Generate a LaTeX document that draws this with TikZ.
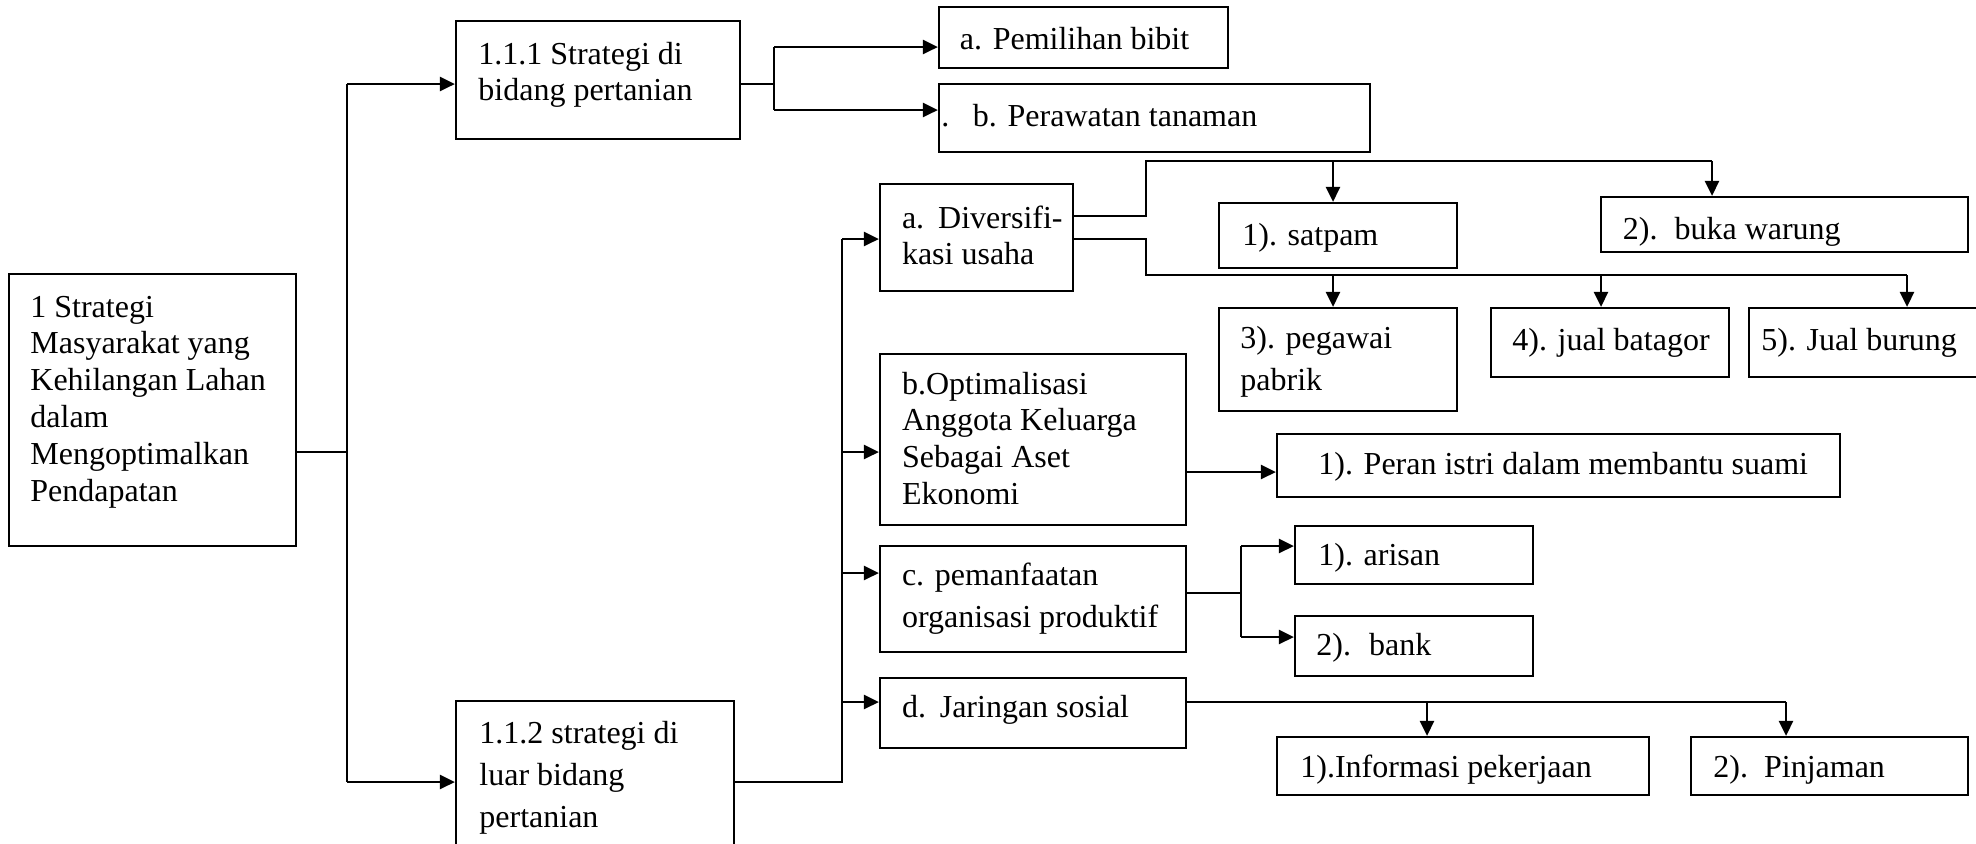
\documentclass[tikz,border=0pt]{standalone}
\usepackage{fontspec}
\setmainfont{Liberation Serif}
\usetikzlibrary{arrows.meta}
\tikzset{
  boxst/.style={draw, line width=1.1pt, rectangle, inner sep=0pt},
  txt/.style={anchor=north west, inner sep=0pt, align=left, font=\fontsize{16pt}{18.4pt}\selectfont},
  txtw/.style={anchor=north west, inner sep=0pt, align=left, font=\fontsize{16pt}{21pt}\selectfont},
  ln/.style={line width=1.1pt},
  arr/.style={line width=1.3pt, -{Triangle[length=7.5pt,width=7pt]}},
}
\newcommand{\mybx}[5]{\node[boxst, minimum width={(#4-#2)*0.5pt}, minimum height={(#5-#3)*0.5pt}] (#1) at ({(#2+#4)/2},{(#3+#5)/2}) {};}
\newcommand{\mytx}[4]{\node[txt] (#1) at ({#2},{#3-24}) {\strut #4};}
\newcommand{\mytw}[4]{\node[txtw] (#1) at ({#2},{#3-28}) {\strut #4};}
\begin{document}
\begin{tikzpicture}[x=0.5pt,y=-0.5pt]
\useasboundingbox (0,0) rectangle (1976,843);
\clip (0,0) rectangle (1976,843);
% boxes
\mybx{root}{9}{274}{296}{546}
\mybx{b111}{456}{21}{740}{139}
\mybx{b112}{456}{701}{734}{870}
\mybx{pem}{939}{7}{1228}{68}
\mybx{per}{939}{84}{1370}{152}
\mybx{div}{880}{184}{1073}{291}
\mybx{sat}{1219}{203}{1457}{268}
\mybx{buka}{1601}{197}{1968}{252}
\mybx{peg}{1219}{308}{1457}{411}
\mybx{bat}{1491}{308}{1729}{377}
\mybx{bur}{1749}{308}{1990}{377}
\mybx{opt}{880}{354}{1186}{525}
\mybx{peran}{1277}{434}{1840}{497}
\mybx{pmf}{880}{546}{1186}{652}
\mybx{ari}{1295}{526}{1533}{584}
\mybx{bank}{1295}{616}{1533}{676}
\mybx{jar}{880}{678}{1186}{748}
\mybx{info}{1277}{737}{1649}{795}
\mybx{pinj}{1691}{737}{1968}{795}
% texts
\mytx{roott}{30}{315}{1 Strategi\\Masyarakat yang\\Kehilangan Lahan\\dalam\\Mengoptimalkan\\Pendapatan}
\mytx{b111t}{478}{62}{1.1.1 Strategi di\\bidang pertanian}
\mytw{b112t}{479}{742}{1.1.2 strategi di\\luar bidang\\pertanian}
\mytx{pemt}{959.5}{47}{a. Pemilihan bibit}
\mytx{pert}{941}{124}{.\hspace{11.8pt}b. Perawatan tanaman}
\mytx{divt}{901.6}{226}{a.\hspace{7pt}Diversifi-\\kasi usaha}
\mytx{satt}{1242}{243}{1). satpam}
\mytx{bukat}{1622.5}{237}{2).\hspace{8.5pt}buka warung}
\mytw{pegt}{1240}{347}{3). pegawai\\pabrik}
\mytx{batt}{1512}{348}{4). jual batagor}
\mytx{burt}{1761}{348}{5). Jual burung}
\mytx{optt}{901.6}{392}{b.Optimalisasi\\Anggota Keluarga\\Sebagai Aset\\Ekonomi}
\mytx{perant}{1318}{472}{1). Peran istri dalam membantu suami}
\mytw{pmft}{901.6}{584}{c. pemanfaatan\\organisasi produktif}
\mytx{arit}{1318}{563}{1). arisan}
\mytx{bankt}{1316}{653}{2).\hspace{9pt}bank}
\mytx{jart}{901.6}{715}{d.\hspace{6.9pt}Jaringan sosial}
\mytx{infot}{1300}{775}{1).Informasi pekerjaan}
\mytx{pinjt}{1713}{775}{2).\hspace{8pt}Pinjaman}
% root connectors
\coordinate (jr) at (347,452);
\coordinate (jt) at (347,84);
\coordinate (jb) at (347,782);
\draw[ln] (jr -| root.east) -- (jr);
\draw[ln] (jt) -- (jb);
\draw[arr] (jt) -- (jt -| b111.west);
\draw[arr] (jb) -- (jb -| b112.west);
% 1.1.1 connectors
\coordinate (k0) at (774,84);
\coordinate (k1) at (774,47);
\coordinate (k2) at (774,110);
\draw[ln] (k0 -| b111.east) -- (k0);
\draw[ln] (k1) -- (k2);
\draw[arr] (k1) -- (k1 -| pem.west);
\draw[arr] (k2) -- (k2 -| per.west);
% 1.1.2 connectors
\coordinate (m0) at (842,782);
\coordinate (m1) at (842,239);
\coordinate (m2) at (842,452);
\coordinate (m3) at (842,573);
\coordinate (m4) at (842,702);
\draw[ln] (m0 -| b112.east) -- (m0) -- (m1);
\draw[arr] (m1) -- (m1 -| div.west);
\draw[arr] (m2) -- (m2 -| opt.west);
\draw[arr] (m3) -- (m3 -| pmf.west);
\draw[arr] (m4) -- (m4 -| jar.west);
% diversifikasi connectors
\coordinate (du1) at (1146,216);
\coordinate (du2) at (1146,161);
\coordinate (du3) at (1712,161);
\coordinate (dua) at (1333,161);
\draw[ln] (du1 -| div.east) -- (du1) -- (du2) -- (du3);
\draw[arr] (dua) -- (dua |- sat.north);
\draw[arr] (du3) -- (du3 |- buka.north);
\coordinate (dl1) at (1146,239);
\coordinate (dl2) at (1146,275);
\coordinate (dl3) at (1907,275);
\coordinate (dla) at (1333,275);
\coordinate (dlb) at (1601,275);
\draw[ln] (dl1 -| div.east) -- (dl1) -- (dl2) -- (dl3);
\draw[arr] (dla) -- (dla |- peg.north);
\draw[arr] (dlb) -- (dlb |- bat.north);
\draw[arr] (dl3) -- (dl3 |- bur.north);
% optimalisasi
\coordinate (o0) at (1200,472);
\draw[arr] (o0 -| opt.east) -- (o0 -| peran.west);
% pemanfaatan
\coordinate (p0) at (1241,593);
\coordinate (p1) at (1241,546);
\coordinate (p2) at (1241,637);
\draw[ln] (p0 -| pmf.east) -- (p0);
\draw[ln] (p1) -- (p2);
\draw[arr] (p1) -- (p1 -| ari.west);
\draw[arr] (p2) -- (p2 -| bank.west);
% jaringan
\coordinate (q0) at (1786,702);
\coordinate (qa) at (1427,702);
\draw[ln] (q0 -| jar.east) -- (q0);
\draw[arr] (qa) -- (qa |- info.north);
\draw[arr] (q0) -- (q0 |- pinj.north);
\end{tikzpicture}
\end{document}
